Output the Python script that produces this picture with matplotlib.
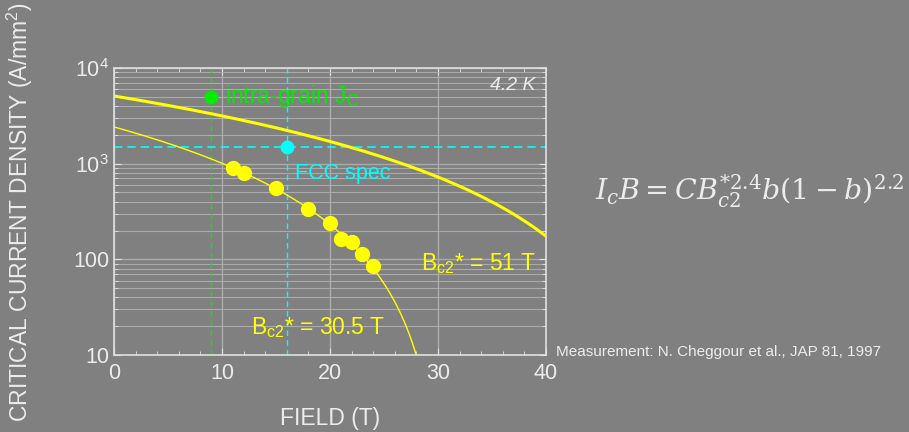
import numpy as np
import matplotlib
matplotlib.use("Agg")
import matplotlib.pyplot as plt
from matplotlib.ticker import FixedLocator, MultipleLocator, NullFormatter

plt.rcParams['font.family'] = ['Liberation Sans', 'DejaVu Sans']
plt.rcParams['mathtext.fontset'] = 'custom'
plt.rcParams['mathtext.rm'] = 'Liberation Sans'
plt.rcParams['mathtext.it'] = 'Liberation Sans:italic'

# measured data (Cheggour et al.)
field_meas = [11, 12, 15, 18, 20, 21, 22, 23, 24]
jc_meas = [900, 800, 560, 336, 240, 163, 152, 114, 85]

# fit parameters: J(B) = J0 * (1 - B/Bc2)^2.2
bc2_values = [51.0, 30.5]
j0_values = [5100.0, 2420.0]
line_widths = [2.2, 1.0]

intra_field, intra_jc = 9, 5000
fcc_field, fcc_jc = 16, 1500

yticks = [10, 100, 1000, 10000]
ytick_labels = ['10', '100', r'10$^3$', r'10$^4$']
xticks = [0, 10, 20, 30, 40]

BG = '#808080'
FG = '#ececec'
YEL = '#ffff00'
GRN = '#00ee00'
CYN = '#00ffff'
GRID = '#ababab'

fig = plt.figure(figsize=(9.09, 4.32), dpi=100, facecolor=BG)
ax = fig.add_axes([114/909, 1-355/432, 432/909, 287/432])
ax.set_facecolor(BG)
ax.set_yscale('log')
ax.set_xlim(0, 40)
ax.set_ylim(10, 10000)

ax.yaxis.set_major_locator(FixedLocator(yticks))
ax.set_yticks(yticks)
ax.set_yticklabels(ytick_labels)
ax.yaxis.set_minor_locator(FixedLocator([m*10**e for e in range(1, 4) for m in range(2, 10)]))
ax.yaxis.set_minor_formatter(NullFormatter())
ax.set_xticks(xticks)
ax.xaxis.set_minor_locator(MultipleLocator(2))

ax.grid(which='major', color=GRID, lw=1.0)
ax.grid(which='minor', axis='y', color=GRID, lw=0.8)
ax.set_axisbelow(True)
for s in ax.spines.values():
    s.set_color('#e0e0e0')
    s.set_linewidth(1.2)
ax.tick_params(which='both', direction='in', top=True, right=True, colors='#e0e0e0',
               labelcolor=FG, labelsize=15.5)
ax.tick_params(which='major', length=5)
ax.tick_params(which='minor', length=3)
ax.tick_params(axis='x', pad=6)

# reference lines
ax.axvline(intra_field, color=GRN, lw=1.0, ls=(0, (4, 3)))
ax.axvline(fcc_field, color=CYN, lw=1.0, ls=(0, (4, 3)))
ax.axhline(fcc_jc, color=CYN, lw=1.2, ls=(0, (5, 3)))

# fit curves
for bc2, j0, lw in zip(bc2_values, j0_values, line_widths):
    B = np.linspace(0, min(bc2, 40) - 1e-6, 600)
    J = j0 * (1 - B / bc2) ** 2.2
    ax.plot(B, J, color=YEL, lw=lw, clip_on=True)

ax.plot(field_meas, jc_meas, 'o', color=YEL, ms=10, zorder=5)
ax.plot([intra_field], [intra_jc], 'o', color=GRN, ms=9, zorder=5)
ax.plot([fcc_field], [fcc_jc], 'o', color=CYN, ms=9, zorder=5)

ax.text(10.3, intra_jc, r'intra-grain J$_\mathrm{C}$', color=GRN, fontsize=16.5, va='center', zorder=6)
ax.text(16.8, 780, 'FCC spec', color=CYN, fontsize=15.5, va='center', zorder=6)
ax.text(39.0, 6500, '4.2 K', color=FG, fontsize=14, style='italic', ha='right', va='center')
ax.text(28.4, 90, r'B$_\mathrm{c2}$* = 51 T', color=YEL, fontsize=16.5, va='center', zorder=6)
ax.text(12.7, 19.5, r'B$_\mathrm{c2}$* = 30.5 T', color=YEL, fontsize=16.5, va='center', zorder=6)

ax.set_xlabel('FIELD (T)', color=FG, fontsize=16.5, labelpad=16)
fig.text(20/909, 1-212/432, r'CRITICAL CURRENT DENSITY (A/mm$^2$)', rotation=90,
         color=FG, fontsize=16.5, ha='center', va='center')

fig.text(556/909, 1-352/432, 'Measurement: N. Cheggour et al., JAP 81, 1997',
         color=FG, fontsize=11, va='center')

fig.text(595/909, 1-191/432,
         r'$I_cB = CB_{c2}^{*2.4}b(1-b)^{2.2}$',
         color=FG, fontsize=20.5, va='center', math_fontfamily='dejavuserif')

fig.savefig('out.png', dpi=100, facecolor=BG)
